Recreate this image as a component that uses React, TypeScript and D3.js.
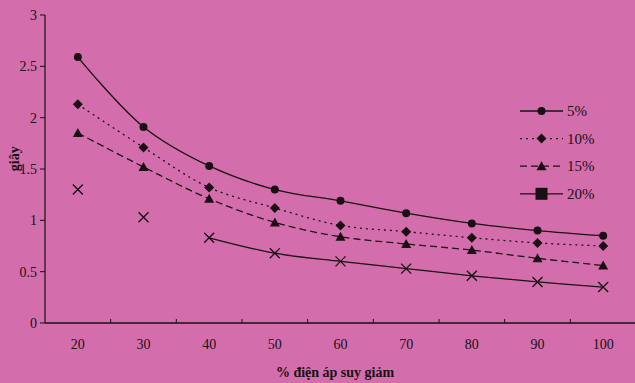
import React from 'react';
import * as d3 from 'd3';

const categories = [20, 30, 40, 50, 60, 70, 80, 90, 100];
const s5 = [2.59, 1.91, 1.53, 1.3, 1.19, 1.07, 0.97, 0.9, 0.85];
const s10 = [2.13, 1.71, 1.32, 1.12, 0.95, 0.89, 0.83, 0.78, 0.75];
const s15 = [1.85, 1.52, 1.21, 0.98, 0.84, 0.77, 0.71, 0.63, 0.56];
const s20 = [1.3, 1.03, 0.83, 0.68, 0.6, 0.53, 0.46, 0.4, 0.35];
const s20Lone = 2; // first two 20% points are drawn without a line
const yTicks = [0, 0.5, 1, 1.5, 2, 2.5, 3];
const seriesNames = ['5%', '10%', '15%', '20%'];

const W = 635, H = 383;
const margin = { top: 15, right: 0, bottom: 60, left: 45 };
const ink = '#1a1014';
const bg = '#d46dac';

const Marker = ({ kind, x, y, size = 1 }: { kind: string; x: number; y: number; size?: number }) => {
  if (kind === 'circle') return <circle cx={x} cy={y} r={4 * size} fill={ink} />;
  if (kind === 'diamond') {
    const r = 5 * size;
    return <path d={`M${x},${y - r}L${x + r},${y}L${x},${y + r}L${x - r},${y}Z`} fill={ink} />;
  }
  if (kind === 'triangle') {
    const r = 5 * size;
    return <path d={`M${x},${y - r}L${x + r},${y + r * 0.8}L${x - r},${y + r * 0.8}Z`} fill={ink} />;
  }
  if (kind === 'square') return <rect x={x - 6} y={y - 6} width={12} height={12} fill={ink} />;
  const r = 5;
  return <path d={`M${x - r},${y - r}L${x + r},${y + r}M${x + r},${y - r}L${x - r},${y + r}`} stroke={ink} strokeWidth={1.3} fill="none" />;
};

export default function App() {
  const x = d3.scaleBand<number>().domain(categories).range([margin.left, 636]);
  const y = d3.scaleLinear().domain([0, 3]).range([H - margin.bottom, margin.top]);
  const cx = (c: number) => (x(c) as number) + x.bandwidth() / 2;

  const line = d3.line<[number, number]>()
    .x(d => cx(d[0]))
    .y(d => y(d[1]))
    .curve(d3.curveCatmullRom.alpha(0.5));

  const zip = (vals: number[]) => categories.map((c, i) => [c, vals[i]] as [number, number]);

  const series = [
    { pts: zip(s5), dash: '', marker: 'circle', lm: 'circle' },
    { pts: zip(s10), dash: '2,4', marker: 'diamond', lm: 'diamond' },
    { pts: zip(s15), dash: '7,4', marker: 'triangle', lm: 'triangle' },
    { pts: zip(s20), dash: '', marker: 'x', lm: 'square', skip: s20Lone },
  ];

  const y0 = y(0);
  const boundaries = categories.map(c => x(c) as number).concat([x.range()[1]]);

  return (
    <svg width={W} height={H} style={{ position: 'absolute', left: 0, top: 0, background: bg }}
      fontFamily="'Liberation Serif', 'DejaVu Serif', serif">
      <rect width={W} height={H} fill={bg} />
      {/* axes */}
      <line x1={margin.left} x2={margin.left} y1={y(3)} y2={y0} stroke={ink} strokeWidth={1.2} />
      <line x1={margin.left} x2={x.range()[1]} y1={y0} y2={y0} stroke={ink} strokeWidth={1.6} />
      {yTicks.map(t => (
        <g key={t}>
          <line x1={margin.left - 5} x2={margin.left} y1={y(t)} y2={y(t)} stroke={ink} />
          <text x={margin.left - 8} y={y(t)} dy="0.35em" textAnchor="end" fontSize={14} fill={ink}>{t}</text>
        </g>
      ))}
      {boundaries.slice(1).map((b, i) => (
        <line key={i} x1={b} x2={b} y1={y0 - 4} y2={y0} stroke={ink} />
      ))}
      {categories.map(c => (
        <text key={c} x={cx(c)} y={y0 + 26} textAnchor="middle" fontSize={14} fill={ink}>{c}</text>
      ))}
      <text x={335} y={377} textAnchor="middle" fontSize={14} fontWeight="bold" fill={ink}>% điện áp suy giảm</text>
      <text transform={`translate(19,${y(1.6)}) rotate(-90)`} textAnchor="middle" fontSize={14} fontWeight="bold" fill={ink}>giây</text>

      {/* series */}
      {series.map((s, i) => (
        <g key={i}>
          <path d={line(s.pts.slice(s.skip || 0)) || ''} fill="none" stroke={ink} strokeWidth={1.3} strokeDasharray={s.dash} />
          {s.pts.map((p, j) => <Marker key={j} kind={s.marker} x={cx(p[0])} y={y(p[1])} />)}
        </g>
      ))}

      {/* legend */}
      {series.map((s, i) => {
        const ly = 111 + i * 27.6;
        return (
          <g key={i}>
            <line x1={520} x2={563} y1={ly} y2={ly} stroke={ink} strokeWidth={1.3} strokeDasharray={s.dash} />
            <Marker kind={s.lm} x={541.5} y={ly} />
            <text x={567} y={ly} dy="0.35em" fontSize={15} fill={ink}>{seriesNames[i]}</text>
          </g>
        );
      })}
    </svg>
  );
}
